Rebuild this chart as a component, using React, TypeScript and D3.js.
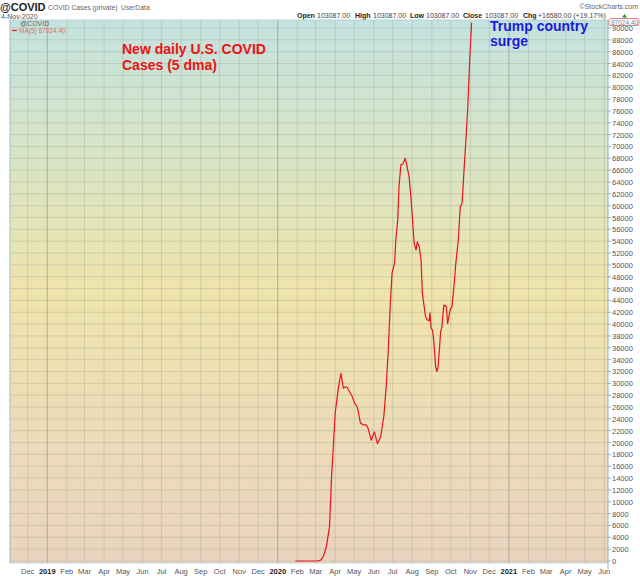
import * as d3 from "d3";

// 5-day moving average of new daily U.S. COVID cases
const dates = [
  "2020-01-29", "2020-03-05", "2020-03-09", "2020-03-13", "2020-03-18", "2020-03-23", "2020-03-26",
  "2020-04-01", "2020-04-06", "2020-04-10", "2020-04-14", "2020-04-17", "2020-04-20", "2020-04-27",
  "2020-05-02", "2020-05-06", "2020-05-11", "2020-05-15", "2020-05-20", "2020-05-23", "2020-05-28",
  "2020-06-02", "2020-06-07", "2020-06-12", "2020-06-17", "2020-06-21", "2020-06-24", "2020-06-27",
  "2020-06-30", "2020-07-04", "2020-07-06", "2020-07-09", "2020-07-11", "2020-07-14", "2020-07-17",
  "2020-07-21", "2020-07-23", "2020-07-27", "2020-07-30", "2020-08-01", "2020-08-04", "2020-08-07",
  "2020-08-09", "2020-08-12", "2020-08-15", "2020-08-17", "2020-08-22", "2020-08-25", "2020-08-28",
  "2020-08-29", "2020-08-31", "2020-09-02", "2020-09-04", "2020-09-07", "2020-09-09", "2020-09-11",
  "2020-09-15", "2020-09-17", "2020-09-20", "2020-09-24", "2020-09-26", "2020-09-30", "2020-10-03",
  "2020-10-06", "2020-10-09", "2020-10-13", "2020-10-16", "2020-10-19", "2020-10-22", "2020-10-23",
  "2020-10-25", "2020-10-28", "2020-10-31", "2020-11-03",
];
const values = [
  0, 0, 150, 700, 2400, 5800, 13700,
  25000, 29200, 31700, 29200, 29400, 29300, 28000,
  26600, 26000, 23300, 23000, 23000, 22400, 20400,
  21800, 19800, 21000, 24400, 29800, 35500, 42900,
  48600, 50300, 54200, 57600, 63200, 66900, 67000,
  68000, 67000, 64900, 61300, 58200, 53700, 52500,
  53900, 53100, 50800, 45200, 41300, 40700, 40600,
  41900, 39300, 39000, 37300, 32800, 32000, 32800,
  38700, 39600, 43200, 43000, 40100, 42400, 43000,
  46300, 50300, 54200, 59800, 60400, 66000, 67700,
  71100, 76700, 84600, 90900,
];
const yTicks = d3.range(0, 90001, 2000);
const monthNames = ["Jan", "Feb", "Mar", "Apr", "May", "Jun", "Jul", "Aug", "Sep", "Oct", "Nov", "Dec"];
const quoteLabels = ["Open", "High", "Low", "Close", "Chg"];
const quoteValues = ["103087.00", "103087.00", "103087.00", "103087.00", "+16580.00 (+19.17%)"];

const W = 640;
const H = 576;
const left = 10;
const right = 608;
const top = 20;
const bottom = 563;
const font = "Arial, 'Liberation Sans', sans-serif";

export default function App() {
  const parse = d3.timeParse("%Y-%m-%d");
  const x = d3
    .scaleTime()
    .domain([parse("2018-11-03")!, parse("2021-06-07")!])
    .range([left, right]);
  const y = d3.scaleLinear().domain([0, 90000]).range([561, 28]);

  const points = dates.map((d, i) => ({ date: parse(d)!, value: values[i] }));
  const line = d3
    .line<{ date: Date; value: number }>()
    .x((d) => x(d.date))
    .y((d) => y(d.value));

  const months = d3.timeMonth.range(parse("2018-12-01")!, parse("2021-06-02")!);

  // header quote strip, laid out left to right
  const quoteX = [297, 355, 410, 463, 523];
  const labelW = [20, 18, 16, 22, 15];

  return (
    <div style={{ position: "absolute", left: 0, top: 0, width: W, height: H, background: "#fff" }}>
      <svg width={W} height={H} style={{ display: "block", fontFamily: font }}>
        <defs>
          <linearGradient id="bg" x1="0" y1="0" x2="0" y2="1">
            <stop offset="0" stopColor="#c3e3e0" />
            <stop offset="0.25" stopColor="#d9e4c6" />
            <stop offset="0.5" stopColor="#efe4ab" />
            <stop offset="0.75" stopColor="#eddcb8" />
            <stop offset="1" stopColor="#ebd3bf" />
          </linearGradient>
          <clipPath id="plot">
            <rect x={left} y={top} width={right - left} height={bottom - top} />
          </clipPath>
        </defs>

        {/* header */}
        <text x={0} y={11} fontSize={11} fontWeight="bold" fill="#222">
          @COVID
        </text>
        <text x={48} y={10} fontSize={6.8} fill="#666">
          COVID Cases (private)
        </text>
        <text x={121} y={10} fontSize={6.8} fill="#666">
          UserData
        </text>
        <text x={1} y={18.5} fontSize={7} fill="#555">
          4-Nov-2020
        </text>
        <text x={638} y={9} fontSize={7} fill="#666" textAnchor="end">
          ©StockCharts.com
        </text>
        {quoteLabels.map((l, i) => (
          <g key={l}>
            <text x={quoteX[i]} y={18} fontSize={7} fontWeight="bold" fill="#222">
              {l}
            </text>
            <text x={quoteX[i] + labelW[i]} y={18} fontSize={7} fill="#444">
              {quoteValues[i]}
            </text>
          </g>
        ))}
        <path d="M622,17.5 L624.5,14 L627,17.5 Z" fill="#1a9a2a" />

        {/* plot background */}
        <rect x={left} y={top} width={right - left} height={bottom - top} fill="url(#bg)" />

        {/* horizontal grid */}
        {yTicks.map((t) => (
          <line key={"h" + t} x1={left} x2={right} y1={y(t)} y2={y(t)} stroke="#a9b39a" strokeOpacity={0.45} strokeWidth={1} />
        ))}
        {/* vertical grid */}
        {months.map((m) => (
          <line
            key={"v" + m.getTime()}
            x1={x(m)}
            x2={x(m)}
            y1={top}
            y2={bottom}
            stroke={m.getMonth() === 0 ? "#8f9a88" : "#a9b39a"}
            strokeOpacity={m.getMonth() === 0 ? 0.7 : 0.45}
          />
        ))}

        {/* frame */}
        <line x1={left} x2={left} y1={top} y2={bottom} stroke="#9fbcc6" />
        <line x1={left} x2={right} y1={bottom} y2={bottom} stroke="#c8d4d8" />
        <line x1={right} x2={right} y1={top} y2={bottom + 6} stroke="#8fb3c4" />
        <line x1={left} x2={right} y1={top} y2={top} stroke="#b8d0d6" />

        {/* series */}
        <g clipPath="url(#plot)">
          <path d={line(points) ?? ""} fill="none" stroke="#e8141c" strokeWidth={1.2} strokeLinejoin="round" />
        </g>

        {/* in-plot legend */}
        <text x={20} y={26} fontSize={7} fill="#666">
          @COVID
        </text>
        <line x1={12} x2={17} y1={30.5} y2={30.5} stroke="#e8141c" strokeWidth={1.2} />
        <text x={19} y={33} fontSize={6.5} fill="#e46a6a">
          MA(5) 87024.40
        </text>

        {/* annotations */}
        <text x={122} y={54} fontSize={14} fontWeight="bold" fill="#f01212">
          New daily U.S. COVID
        </text>
        <text x={122} y={70} fontSize={14} fontWeight="bold" fill="#f01212">
          Cases (5 dma)
        </text>
        <text x={490} y={31} fontSize={14} fontWeight="bold" fill="#1a1ae0">
          Trump country
        </text>
        <text x={490} y={46} fontSize={14} fontWeight="bold" fill="#1a1ae0">
          surge
        </text>

        {/* right axis */}
        {yTicks.map((t) => (
          <g key={"yl" + t}>
            <line x1={right} x2={right + 3} y1={y(t)} y2={y(t)} stroke="#8fb3c4" />
            <text x={612} y={y(t) + 3} fontSize={7.5} fill="#555">
              {t}
            </text>
          </g>
        ))}
        <rect x={609} y={18.5} width={30} height={7} fill="#ffffff" stroke="#e27c7c" rx={2} />
        <text x={611} y={24.5} fontSize={6.5} fill="#6a8ab0">
          87024.40
        </text>

        {/* bottom axis */}
        {months.map((m) => {
          const isYear = m.getMonth() === 0;
          return (
            <text
              key={"xl" + m.getTime()}
              x={x(m)}
              y={574}
              fontSize={7.5}
              textAnchor="middle"
              fontWeight={isYear ? "bold" : "normal"}
              fill={isYear ? "#222" : "#555"}
            >
              {isYear ? String(m.getFullYear()) : monthNames[m.getMonth()]}
            </text>
          );
        })}
      </svg>
    </div>
  );
}
